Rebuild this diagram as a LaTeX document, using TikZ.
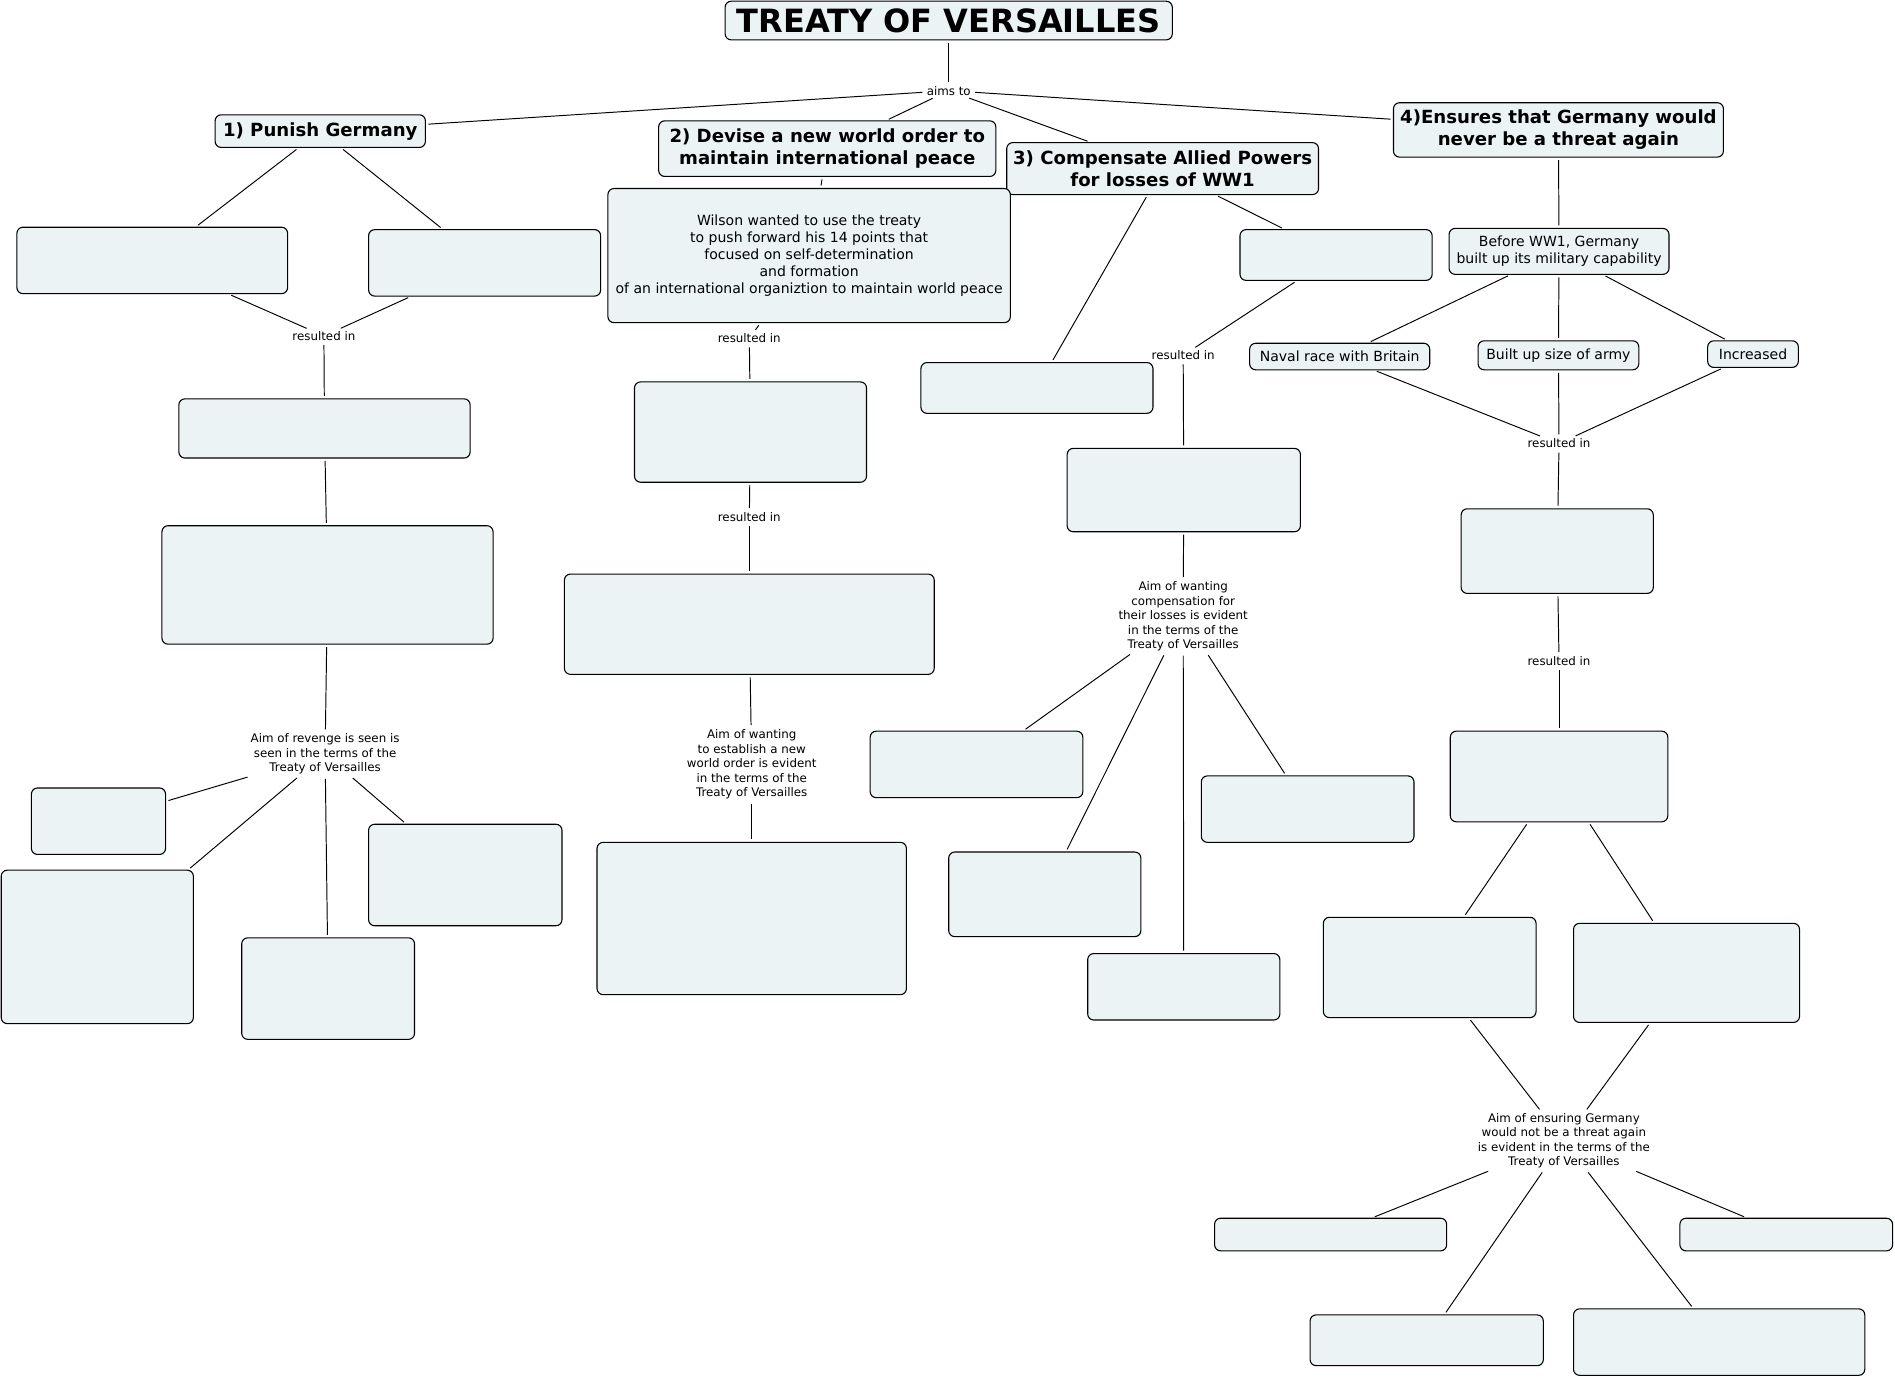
\documentclass[tikz,border=0pt]{standalone}
\usepackage{fontspec}
\setmainfont{DejaVu Sans}
\definecolor{boxfill}{RGB}{235,243,245}
\tikzset{
  box/.style={draw=black, fill=boxfill, rounded corners=5pt, line width=0.9pt, inner sep=0pt, align=center, font=\fontsize{11.6}{14}\selectfont},
  head/.style={box, font=\fontsize{15}{18}\selectfont\bfseries},
  titlebox/.style={box, font=\fontsize{26.5}{30}\selectfont\bfseries},
  lab/.style={inner sep=1.5pt, align=center, font=\fontsize{9.8}{12}\selectfont},
  link/.style={draw=black, line width=0.8pt, shorten <=2pt, shorten >=2pt},
}
\newcommand\bx[7][box]{\node[#1, minimum width={(#5-#3)*1pt}, minimum height={(#6-#4)*1pt}] (#2) at ({(#3+#5)/2},{(#4+#6)/2}) {#7};}
\begin{document}
\begin{tikzpicture}[x=1pt,y=-1pt]
\useasboundingbox (0,0) rectangle (1568,1142);
% title and aims
\bx[titlebox]{title}{600}{1}{970}{33}{TREATY OF VERSAILLES}
\node[lab] (aims) at (785,75) {aims to};
\bx[head]{h1}{178}{95}{352}{122}{1) Punish Germany}
\bx[head]{h2}{545}{100}{824}{146}{2) Devise a new world order to\\maintain international peace}
\bx[head]{h3}{833}{118}{1091}{161}{3) Compensate Allied Powers\\for losses of WW1}
\bx[head]{h4}{1153}{85}{1426}{130}{4)Ensures that Germany would\\never be a threat again}
% branch 1
\bx{a1}{14}{188}{238}{243}{}
\bx{a2}{305}{190}{497}{245}{}
\node[lab] (r1) at (268,278) {resulted in};
\bx{a3}{148}{330}{389}{379}{}
\bx{a4}{134}{435}{408}{533}{}
\node[lab] (l1) at (269,624) {Aim of revenge is seen is\\seen in the terms of the\\Treaty of Versailles};
\bx{a5}{26}{652}{137}{707}{}
\bx{a6}{1}{720}{160}{847}{}
\bx{a7}{200}{776}{343}{860}{}
\bx{a8}{305}{682}{465}{766}{}
% branch 2
\bx{b1}{503}{156}{836}{267}{Wilson wanted to use the treaty\\to push forward his 14 points that\\focused on self-determination\\and formation\\of an international organiztion to maintain world peace}
\node[lab] (r2) at (620,280) {resulted in};
\bx{b2}{525}{316}{717}{399}{}
\node[lab] (r3) at (620,428) {resulted in};
\bx{b3}{467}{475}{773}{558}{}
\node[lab] (l2) at (622,632.5) {Aim of wanting\\to establish a new\\world order is evident\\in the terms of the\\Treaty of Versailles};
\bx{b4}{494}{697}{750}{823}{}
% branch 3
\bx{c1}{762}{300}{954}{342}{}
\bx{c2}{1026}{190}{1185}{232}{}
\node[lab] (r4) at (979,294) {resulted in};
\bx{c3}{883}{371}{1076}{440}{}
\node[lab] (l3) at (979,510) {Aim of wanting\\compensation for\\their losses is evident\\in the terms of the\\Treaty of Versailles};
\bx{c4}{720}{605}{896}{660}{}
\bx{c5}{785}{705}{944}{775}{}
\bx{c6}{900}{789}{1059}{844}{}
\bx{c7}{994}{642}{1170}{697}{}
% branch 4
\bx{d1}{1199}{189}{1381}{227}{Before WW1, Germany\\built up its military capability}
\bx{d2}{1034}{284}{1183}{306}{Naval race with Britain}
\bx{d3}{1223}{282}{1356}{306}{Built up size of army}
\bx{d4}{1413}{282}{1488}{304}{Increased}
\node[lab] (r5) at (1290,367) {resulted in};
\bx{d5}{1209}{421}{1368}{491}{}
\node[lab] (r6) at (1290,547) {resulted in};
\bx{d6}{1200}{605}{1380}{680}{}
\bx{d7}{1095}{759}{1271}{842}{}
\bx{d8}{1302}{764}{1489}{846}{}
\node[lab] (l4) at (1294,944) {Aim of ensuring Germany\\would not be a threat again\\is evident in the terms of the\\Treaty of Versailles};
\bx{e1}{1005}{1008}{1197}{1035}{}
\bx{e2}{1084}{1088}{1277}{1130}{}
\bx{e3}{1302}{1083}{1543}{1138}{}
\bx{e4}{1390}{1008}{1566}{1035}{}
% connectors
\foreach \p/\q in {title/aims, aims/h1, aims/h2, aims/h3, aims/h4,
  h1/a1, h1/a2, a1/r1, a2/r1, r1/a3, a3/a4, a4/l1, l1/a5, l1/a6, l1/a7, l1/a8,
  h2/b1, b1/r2, r2/b2, b2/r3, r3/b3, b3/l2, l2/b4,
  h3/c1, h3/c2, c2/r4, r4/c3, c3/l3, l3/c4, l3/c5, l3/c6, l3/c7,
  h4/d1, d1/d2, d1/d3, d1/d4, d2/r5, d3/r5, d4/r5, r5/d5, d5/r6, r6/d6,
  d6/d7, d6/d8, d7/l4, d8/l4, l4/e1, l4/e2, l4/e3, l4/e4}
  \draw[link] (\p) -- (\q);
\end{tikzpicture}
\end{document}
